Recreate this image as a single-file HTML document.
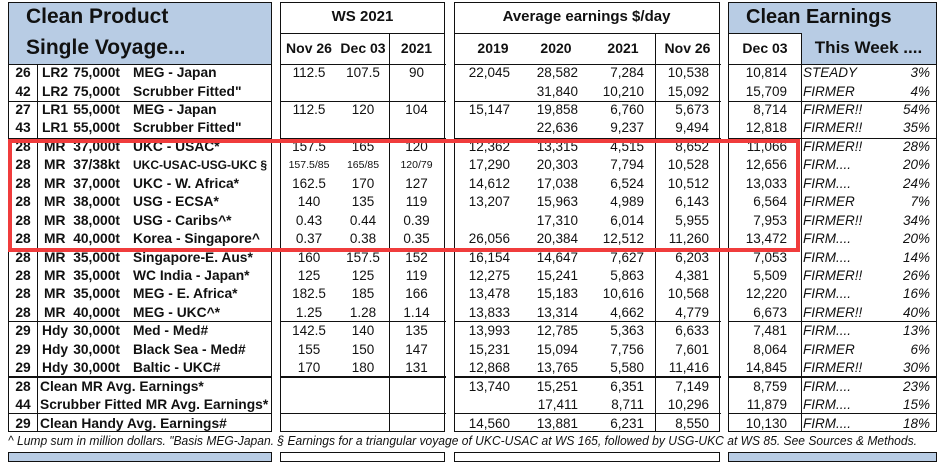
<!DOCTYPE html>
<html><head><meta charset="utf-8"><style>
*{margin:0;padding:0;box-sizing:border-box}
body{width:937px;height:455px;overflow:hidden;background:#fff;font-family:"Liberation Sans",Arial,sans-serif;color:#111;position:relative}
.a{position:absolute}
.box{position:absolute;border:1.5px solid #111}
.bl{background:#b8cce4}
.h{position:absolute;height:0;border-top:1.3px solid #111}
.v{position:absolute;width:0;border-left:1.3px solid #111}
.r{position:absolute;left:0;width:937px;height:18px;line-height:18px;font-size:13.5px}
.r span{position:absolute;white-space:pre}
.n{left:8px;width:30px;text-align:center;font-weight:bold;font-size:13.8px}
.t{left:42px;font-weight:bold;font-size:13.8px}
.z{left:60px;width:60px;text-align:right;font-weight:bold;font-size:13.8px}
.rt{left:133px;font-weight:bold;font-size:13.8px}
.sum{left:40px;font-weight:bold;font-size:13.8px}
.w1{left:282px;width:54px;text-align:center}
.w2{left:336px;width:54px;text-align:center}
.w3{left:389px;width:55px;text-align:center}
.e1{left:440px;width:70px;text-align:right}
.e2{left:507px;width:71px;text-align:right}
.e3{left:574px;width:70px;text-align:right}
.e4{left:640px;width:69px;text-align:right}
.d{left:720px;width:67px;text-align:right}
.tw{left:803px;font-style:italic}
.p{left:880px;width:50px;text-align:right;font-style:italic}
.sm{font-size:10.5px}
.hd{position:absolute;font-weight:bold;text-align:center;font-size:15px}
</style></head><body>
<div class="box" style="left:280px;top:2px;width:165px;height:430px"></div>
<div class="box" style="left:454px;top:2px;width:266px;height:430px"></div>
<div class="box" style="left:728px;top:2px;width:209px;height:430px"></div>
<div class="a bl" style="left:729px;top:3px;width:207px;height:30px"></div>
<div class="a bl" style="left:801px;top:33px;width:135px;height:31px"></div>
<div class="box" style="left:8px;top:2px;width:264px;height:430px;background:transparent"></div>
<div class="box bl" style="left:8px;top:2px;width:264px;height:63px;border-bottom:none"></div>
<div class="a" style="left:26px;top:5px;font-size:21px;font-weight:bold">Clean Product</div>
<div class="a" style="left:26px;top:36px;font-size:21px;font-weight:bold">Single Voyage...</div>
<div class="hd" style="left:280px;width:165px;top:8px">WS 2021</div>
<div class="hd" style="left:282px;width:54px;top:40px;font-size:14px">Nov 26</div>
<div class="hd" style="left:336px;width:54px;top:40px;font-size:14px">Dec 03</div>
<div class="hd" style="left:389px;width:55px;top:40px;font-size:14px">2021</div>
<div class="hd" style="left:454px;width:265px;top:8px">Average earnings $/day</div>
<div class="hd" style="left:463px;width:60px;top:40px;font-size:14px">2019</div>
<div class="hd" style="left:526px;width:60px;top:40px;font-size:14px">2020</div>
<div class="hd" style="left:593px;width:60px;top:40px;font-size:14px">2021</div>
<div class="hd" style="left:656px;width:63px;top:40px;font-size:14px">Nov 26</div>
<div class="hd" style="left:729px;width:72px;top:40px;font-size:14px">Dec 03</div>
<div class="hd" style="left:801px;width:135px;top:38px;font-size:17px">This Week ....</div>
<div class="a" style="left:746px;top:6px;font-size:20px;font-weight:bold">Clean Earnings</div>
<div class="h" style="left:280px;top:33px;width:165px"></div>
<div class="h" style="left:454px;top:33px;width:266px"></div>
<div class="h" style="left:729px;top:33px;width:72px"></div>
<div class="h" style="left:8px;top:64px;width:929px"></div>
<div class="v" style="left:37px;top:64px;height:368px"></div>
<div class="v" style="left:389px;top:33px;height:399px"></div>
<div class="v" style="left:655px;top:33px;height:399px"></div>
<div class="v" style="left:801px;top:33px;height:399px"></div>
<div class="h" style="left:8px;top:101px;width:929px"></div>
<div class="h" style="left:8px;top:138px;width:929px"></div>
<div class="h" style="left:8px;top:321px;width:929px"></div>
<div class="h" style="left:8px;top:376px;width:929px;border-top-width:2.5px"></div>
<div class="h" style="left:8px;top:413px;width:929px"></div>
<div class="a" style="left:272px;top:0;width:8px;height:434px;background:#fff"></div>
<div class="a" style="left:446px;top:0;width:8px;height:434px;background:#fff"></div>
<div class="a" style="left:721px;top:0;width:7px;height:434px;background:#fff"></div>
<div class="r" style="top:64px"><span class="n">26</span><span class="t">LR2</span><span class="z">75,000t</span><span class="rt">MEG - Japan</span><span class="w1">112.5</span><span class="w2">107.5</span><span class="w3">90</span><span class="e1">22,045</span><span class="e2">28,582</span><span class="e3">7,284</span><span class="e4">10,538</span><span class="d">10,814</span><span class="tw">STEADY</span><span class="p">3%</span></div>
<div class="r" style="top:82.5px"><span class="n">42</span><span class="t">LR2</span><span class="z">75,000t</span><span class="rt">Scrubber Fitted"</span><span class="e2">31,840</span><span class="e3">10,210</span><span class="e4">15,092</span><span class="d">15,709</span><span class="tw">FIRMER</span><span class="p">4%</span></div>
<div class="r" style="top:101px"><span class="n">27</span><span class="t">LR1</span><span class="z">55,000t</span><span class="rt">MEG - Japan</span><span class="w1">112.5</span><span class="w2">120</span><span class="w3">104</span><span class="e1">15,147</span><span class="e2">19,858</span><span class="e3">6,760</span><span class="e4">5,673</span><span class="d">8,714</span><span class="tw">FIRMER!!</span><span class="p">54%</span></div>
<div class="r" style="top:119.4px"><span class="n">43</span><span class="t">LR1</span><span class="z">55,000t</span><span class="rt">Scrubber Fitted"</span><span class="e2">22,636</span><span class="e3">9,237</span><span class="e4">9,494</span><span class="d">12,818</span><span class="tw">FIRMER!!</span><span class="p">35%</span></div>
<div class="r" style="top:137.8px"><span class="n">28</span><span class="t" style="left:44px">MR</span><span class="z">37,000t</span><span class="rt">UKC - USAC*</span><span class="w1">157.5</span><span class="w2">165</span><span class="w3">120</span><span class="e1">12,362</span><span class="e2">13,315</span><span class="e3">4,515</span><span class="e4">8,652</span><span class="d">11,066</span><span class="tw">FIRMER!!</span><span class="p">28%</span></div>
<div class="r" style="top:156.3px"><span class="n">28</span><span class="t" style="left:44px">MR</span><span class="z">37/38kt</span><span class="rt" style="font-size:12px">UKC-USAC-USG-UKC §</span><span class="w1 sm">157.5/85</span><span class="w2 sm">165/85</span><span class="w3 sm">120/79</span><span class="e1">17,290</span><span class="e2">20,303</span><span class="e3">7,794</span><span class="e4">10,528</span><span class="d">12,656</span><span class="tw">FIRM....</span><span class="p">20%</span></div>
<div class="r" style="top:174.7px"><span class="n">28</span><span class="t" style="left:44px">MR</span><span class="z">37,000t</span><span class="rt">UKC - W. Africa*</span><span class="w1">162.5</span><span class="w2">170</span><span class="w3">127</span><span class="e1">14,612</span><span class="e2">17,038</span><span class="e3">6,524</span><span class="e4">10,512</span><span class="d">13,033</span><span class="tw">FIRM....</span><span class="p">24%</span></div>
<div class="r" style="top:193.2px"><span class="n">28</span><span class="t" style="left:44px">MR</span><span class="z">38,000t</span><span class="rt">USG - ECSA*</span><span class="w1">140</span><span class="w2">135</span><span class="w3">119</span><span class="e1">13,207</span><span class="e2">15,963</span><span class="e3">4,989</span><span class="e4">6,143</span><span class="d">6,564</span><span class="tw">FIRMER</span><span class="p">7%</span></div>
<div class="r" style="top:211.6px"><span class="n">28</span><span class="t" style="left:44px">MR</span><span class="z">38,000t</span><span class="rt">USG - Caribs^*</span><span class="w1">0.43</span><span class="w2">0.44</span><span class="w3">0.39</span><span class="e2">17,310</span><span class="e3">6,014</span><span class="e4">5,955</span><span class="d">7,953</span><span class="tw">FIRMER!!</span><span class="p">34%</span></div>
<div class="r" style="top:230px"><span class="n">28</span><span class="t" style="left:44px">MR</span><span class="z">40,000t</span><span class="rt">Korea - Singapore^</span><span class="w1">0.37</span><span class="w2">0.38</span><span class="w3">0.35</span><span class="e1">26,056</span><span class="e2">20,384</span><span class="e3">12,512</span><span class="e4">11,260</span><span class="d">13,472</span><span class="tw">FIRM....</span><span class="p">20%</span></div>
<div class="r" style="top:248.5px"><span class="n">28</span><span class="t" style="left:44px">MR</span><span class="z">35,000t</span><span class="rt">Singapore-E. Aus*</span><span class="w1">160</span><span class="w2">157.5</span><span class="w3">152</span><span class="e1">16,154</span><span class="e2">14,647</span><span class="e3">7,627</span><span class="e4">6,203</span><span class="d">7,053</span><span class="tw">FIRM....</span><span class="p">14%</span></div>
<div class="r" style="top:267px"><span class="n">28</span><span class="t" style="left:44px">MR</span><span class="z">35,000t</span><span class="rt">WC India - Japan*</span><span class="w1">125</span><span class="w2">125</span><span class="w3">119</span><span class="e1">12,275</span><span class="e2">15,241</span><span class="e3">5,863</span><span class="e4">4,381</span><span class="d">5,509</span><span class="tw">FIRMER!!</span><span class="p">26%</span></div>
<div class="r" style="top:285.4px"><span class="n">28</span><span class="t" style="left:44px">MR</span><span class="z">35,000t</span><span class="rt">MEG - E. Africa*</span><span class="w1">182.5</span><span class="w2">185</span><span class="w3">166</span><span class="e1">13,478</span><span class="e2">15,183</span><span class="e3">10,616</span><span class="e4">10,568</span><span class="d">12,220</span><span class="tw">FIRM....</span><span class="p">16%</span></div>
<div class="r" style="top:303.9px"><span class="n">28</span><span class="t" style="left:44px">MR</span><span class="z">40,000t</span><span class="rt">MEG - UKC^*</span><span class="w1">1.25</span><span class="w2">1.28</span><span class="w3">1.14</span><span class="e1">13,833</span><span class="e2">13,314</span><span class="e3">4,662</span><span class="e4">4,779</span><span class="d">6,673</span><span class="tw">FIRMER!!</span><span class="p">40%</span></div>
<div class="r" style="top:322.3px"><span class="n">29</span><span class="t">Hdy</span><span class="z">30,000t</span><span class="rt">Med - Med#</span><span class="w1">142.5</span><span class="w2">140</span><span class="w3">135</span><span class="e1">13,993</span><span class="e2">12,785</span><span class="e3">5,363</span><span class="e4">6,633</span><span class="d">7,481</span><span class="tw">FIRM....</span><span class="p">13%</span></div>
<div class="r" style="top:340.8px"><span class="n">29</span><span class="t">Hdy</span><span class="z">30,000t</span><span class="rt">Black Sea - Med#</span><span class="w1">155</span><span class="w2">150</span><span class="w3">147</span><span class="e1">15,231</span><span class="e2">15,094</span><span class="e3">7,756</span><span class="e4">7,601</span><span class="d">8,064</span><span class="tw">FIRMER</span><span class="p">6%</span></div>
<div class="r" style="top:359.2px"><span class="n">29</span><span class="t">Hdy</span><span class="z">30,000t</span><span class="rt">Baltic - UKC#</span><span class="w1">170</span><span class="w2">180</span><span class="w3">131</span><span class="e1">12,868</span><span class="e2">13,765</span><span class="e3">5,580</span><span class="e4">11,416</span><span class="d">14,845</span><span class="tw">FIRMER!!</span><span class="p">30%</span></div>
<div class="r" style="top:377.7px"><span class="n">28</span><span class="sum">Clean MR Avg. Earnings*</span><span class="e1">13,740</span><span class="e2">15,251</span><span class="e3">6,351</span><span class="e4">7,149</span><span class="d">8,759</span><span class="tw">FIRM....</span><span class="p">23%</span></div>
<div class="r" style="top:396.1px"><span class="n">44</span><span class="sum">Scrubber Fitted MR Avg. Earnings*</span><span class="e2">17,411</span><span class="e3">8,711</span><span class="e4">10,296</span><span class="d">11,879</span><span class="tw">FIRM....</span><span class="p">15%</span></div>
<div class="r" style="top:414.6px"><span class="n">29</span><span class="sum">Clean Handy Avg. Earnings#</span><span class="e1">14,560</span><span class="e2">13,881</span><span class="e3">6,231</span><span class="e4">8,550</span><span class="d">10,130</span><span class="tw">FIRM....</span><span class="p">18%</span></div>
<div class="a" style="left:8px;top:139px;width:792px;height:113px;border:4px solid #f03c3c"></div>
<div class="a" style="left:8px;top:434px;font-size:12.5px;font-style:italic;white-space:nowrap;transform:scaleX(0.965);transform-origin:left">^ Lump sum in million dollars. "Basis MEG-Japan. § Earnings for a triangular voyage of UKC-USAC at WS 165, followed by USG-UKC at WS 85. See Sources &amp; Methods.</div>
<div class="box bl" style="left:8px;top:452px;width:264px;height:10px"></div>
<div class="box" style="left:280px;top:452px;width:165px;height:10px"></div>
<div class="box" style="left:454px;top:452px;width:266px;height:10px"></div>
<div class="box bl" style="left:728px;top:452px;width:209px;height:10px"></div>
</body></html>
